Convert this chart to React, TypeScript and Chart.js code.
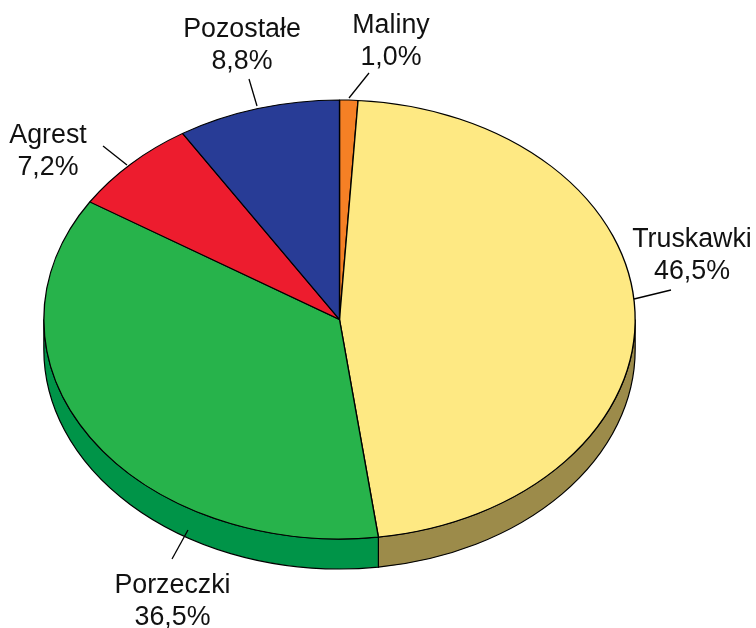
import React, { useEffect, useRef } from "react";
import { Chart, registerables } from "chart.js";

Chart.register(...registerables);

const categories = ["Maliny", "Truskawki", "Porzeczki", "Agrest", "Pozostałe"];
// Percentages printed on the labels.
const labelShares = [1.0, 46.5, 36.5, 7.2, 8.8];
// Slice sizes as they are drawn in the picture (differ slightly from the printed ones).
const sliceShares = [1.0, 46.9, 36.1, 7.1, 8.9];
const faceColors = ["#F58025", "#FEE983", "#27B34B", "#ED1C2E", "#283C96"];
const sideColors = ["#B85F1B", "#9C8B4A", "#009448", "#B0141F", "#1C2B6E"];

// Annotation layout: text centre x, first baseline y, leader line from pie edge to label.
const labelLayout = [
  { x: 391, y: 33, line: [349, 98, 369, 73] },
  { x: 692, y: 247, line: [634, 299, 671, 290] },
  { x: 172.5, y: 593, line: [188, 530, 172, 559] },
  { x: 48, y: 143, line: [127, 165, 103, 146] },
  { x: 242, y: 36.5, line: [257, 106, 249, 79] },
];

const X_STRETCH = 1.347;
const DEPTH = 30;
const FONT = '26.8px "Liberation Sans", Arial, sans-serif';
const formatShare = (v: number) => v.toFixed(1).replace(".", ",") + "%";

const piePerspective = {
  id: "piePerspective",
  beforeDatasetsDraw(chart: any) {
    const ctx = chart.ctx;
    const arcs = chart.getDatasetMeta(0).data;
    const TAU = Math.PI * 2;
    ctx.save();
    arcs.forEach((arc: any, i: number) => {
      const a0 = ((arc.startAngle % TAU) + TAU) % TAU;
      const a1 = a0 + (arc.endAngle - arc.startAngle);
      // visible part of the wall lies in the lower half of the ellipse
      const ranges: number[][] = [[a0, a1], [a0 - TAU, a1 - TAU]];
      ranges.forEach(([s, e]) => {
        const from = Math.max(s, 0);
        const to = Math.min(e, Math.PI);
        if (to <= from) return;
        const rx = arc.outerRadius * X_STRETCH;
        const ry = arc.outerRadius;
        ctx.beginPath();
        ctx.ellipse(arc.x, arc.y, rx, ry, 0, from, to, false);
        ctx.ellipse(arc.x, arc.y + DEPTH, rx, ry, 0, to, from, true);
        ctx.closePath();
        ctx.fillStyle = sideColors[i];
        ctx.fill();
        ctx.strokeStyle = "#000";
        ctx.lineWidth = 1.2;
        ctx.stroke();
      });
    });
    ctx.restore();
    const first = arcs[0];
    ctx.save();
    ctx.translate(first.x, first.y);
    ctx.scale(X_STRETCH, 1);
    ctx.translate(-first.x, -first.y);
  },
  afterDatasetsDraw(chart: any) {
    const ctx = chart.ctx;
    ctx.restore();
    ctx.save();
    ctx.strokeStyle = "#000";
    ctx.lineWidth = 1.3;
    ctx.fillStyle = "#111";
    ctx.font = FONT;
    ctx.textAlign = "center";
    ctx.textBaseline = "alphabetic";
    categories.forEach((name, i) => {
      const p = labelLayout[i];
      ctx.beginPath();
      ctx.moveTo(p.line[0], p.line[1]);
      ctx.lineTo(p.line[2], p.line[3]);
      ctx.stroke();
      ctx.fillText(name, p.x, p.y);
      ctx.fillText(formatShare(labelShares[i]), p.x, p.y + 32);
    });
    ctx.restore();
  },
};

export default function App() {
  const ref = useRef<HTMLCanvasElement>(null);
  useEffect(() => {
    document.body.style.margin = "0";
    const chart = new Chart(ref.current!, {
      type: "pie",
      data: {
        labels: categories,
        datasets: [
          {
            data: sliceShares,
            backgroundColor: faceColors,
            borderColor: "#000",
            borderWidth: 1,
            clip: false,
          } as any,
        ],
      },
      options: {
        responsive: false,
        animation: false,
        layout: { padding: { left: 119.5, right: 196.5, top: 99.5, bottom: 88.5 } },
        plugins: { legend: { display: false }, tooltip: { enabled: false } },
      },
      plugins: [piePerspective],
    });
    return () => chart.destroy();
  }, []);
  return <canvas ref={ref} width={756} height={628} style={{ display: "block" }} />;
}
